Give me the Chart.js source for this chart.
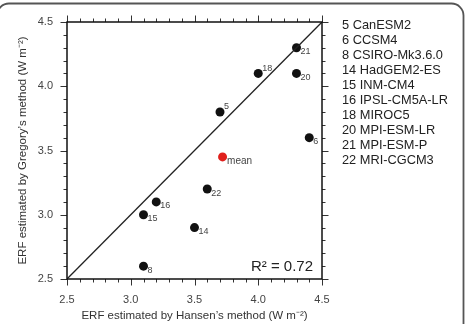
<!DOCTYPE html>
<html>
<head>
<meta charset="utf-8">
<script src="https://cdn.jsdelivr.net/npm/chart.js@4/dist/chart.umd.min.js"></script>
<style>
  body { margin: 0; background: #fff; }
  canvas { display: block; }
</style>
</head>
<body>
<canvas id="chart" width="465" height="324"></canvas>
<script>
// CMIP5 models (number + name), ERF from the two methods
const modelIds = [5, 6, 8, 14, 15, 16, 18, 20, 21, 22];
const modelNames = ['CanESM2', 'CCSM4', 'CSIRO-Mk3.6.0', 'HadGEM2-ES', 'INM-CM4',
    'IPSL-CM5A-LR', 'MIROC5', 'MPI-ESM-LR', 'MPI-ESM-P', 'MRI-CGCM3'];
const hansenErf = [3.7, 4.4, 3.1, 3.5, 3.1, 3.2, 4.0, 4.3, 4.3, 3.6];
const gregoryErf = [3.8, 3.6, 2.6, 2.9, 3.0, 3.1, 4.1, 4.1, 4.3, 3.2];
const meanErf = { x: 3.72, y: 3.45 };
const oneToOne = [2.5, 4.5];
const axisTicks = [2.5, 3.0, 3.5, 4.0, 4.5];
const rSquaredText = 'R\u00B2 = 0.72';

// labels drawn above the point instead of below
const labelsAbove = [5, 18];

const fontFamily = '"Liberation Sans", Arial, Helvetica, sans-serif';

const modelPoints = modelIds.map((id, i) => ({ x: hansenErf[i], y: gregoryErf[i] }));

// Frame, outward ticks on all four sides, point labels, legend text
const decorations = {
    id: 'decorations',
    beforeDraw(chart) {
        const ctx = chart.ctx;
        ctx.save();
        ctx.strokeStyle = '#555';
        ctx.lineWidth = 1.8;
        ctx.beginPath();
        ctx.roundRect(-3, 3.5, 466.5, 340, 12);
        ctx.stroke();
        ctx.restore();
    },
    afterDraw(chart) {
        const ctx = chart.ctx;
        const area = chart.chartArea;
        const xs = chart.scales.x;
        const ys = chart.scales.y;
        ctx.save();

        // minor/major ticks
        ctx.strokeStyle = '#333';
        ctx.lineWidth = 1;
        for (let i = 25; i <= 45; i++) {
            const len = i % 5 === 0 ? 6.5 : 3.5;
            const px = Math.round(xs.getPixelForValue(i / 10)) + 0.5;
            const py = Math.round(ys.getPixelForValue(i / 10)) + 0.5;
            ctx.beginPath();
            ctx.moveTo(px, area.bottom); ctx.lineTo(px, area.bottom + len);
            ctx.moveTo(px, area.top); ctx.lineTo(px, area.top - len);
            ctx.moveTo(area.left, py); ctx.lineTo(area.left - len, py);
            ctx.moveTo(area.right, py); ctx.lineTo(area.right + len, py);
            ctx.stroke();
        }

        // plot box
        ctx.strokeStyle = '#111';
        ctx.lineWidth = 1.5;
        ctx.strokeRect(area.left, area.top, area.right - area.left, area.bottom - area.top);

        // model numbers next to the points
        ctx.fillStyle = '#444';
        ctx.font = '9px ' + fontFamily;
        ctx.textAlign = 'left';
        ctx.textBaseline = 'middle';
        chart.getDatasetMeta(1).data.forEach((pt, i) => {
            const above = labelsAbove.includes(modelIds[i]);
            ctx.fillText(String(modelIds[i]), pt.x + 4, pt.y + (above ? -5 : 4));
        });
        const m = chart.getDatasetMeta(2).data[0];
        ctx.font = '10px ' + fontFamily;
        ctx.fillText('mean', m.x + 4.5, m.y + 4);

        // R squared
        ctx.fillStyle = '#222';
        ctx.font = '15px ' + fontFamily;
        ctx.textAlign = 'right';
        ctx.textBaseline = 'alphabetic';
        ctx.fillText(rSquaredText, area.right - 9, area.bottom - 8.5);

        // model list on the right
        ctx.font = '12.8px ' + fontFamily;
        ctx.textAlign = 'left';
        modelIds.forEach((id, i) => {
            ctx.fillText(id + ' ' + modelNames[i], area.right + 20, 28.5 + i * 15);
        });
        ctx.restore();
    }
};

new Chart(document.getElementById('chart'), {
    type: 'scatter',
    data: {
        datasets: [
            {
                type: 'line',
                data: oneToOne.map(v => ({ x: v, y: v })),
                borderColor: '#222',
                borderWidth: 1.3,
                pointRadius: 0
            },
            {
                data: modelPoints,
                backgroundColor: '#111',
                borderWidth: 0,
                pointRadius: 4.5
            },
            {
                data: [meanErf],
                backgroundColor: '#e0201c',
                borderWidth: 0,
                pointRadius: 4.5
            }
        ]
    },
    options: {
        responsive: false,
        animation: false,
        layout: { padding: { left: 0, top: 22, right: 143, bottom: 0 } },
        plugins: {
            legend: { display: false },
            tooltip: { enabled: false }
        },
        scales: {
            x: {
                type: 'linear',
                min: 2.5,
                max: 4.5,
                afterBuildTicks: s => { s.ticks = axisTicks.map(v => ({ value: v })); },
                afterFit: s => { s.height = 45; },
                grid: { display: false, drawTicks: false },
                border: { display: false },
                ticks: {
                    padding: 14.5,
                    color: '#444',
                    font: { family: fontFamily, size: 11 },
                    callback: v => v.toFixed(1)
                },
                title: {
                    display: true,
                    text: 'ERF estimated by Hansen\u2019s method (W m\u207B\u00B2)',
                    color: '#333',
                    font: { family: fontFamily, size: 11.5 },
                    padding: { top: 0, bottom: 1 }
                }
            },
            y: {
                type: 'linear',
                min: 2.5,
                max: 4.5,
                afterBuildTicks: s => { s.ticks = axisTicks.map(v => ({ value: v })); },
                afterFit: s => { s.width = 67; },
                grid: { display: false, drawTicks: false },
                border: { display: false },
                ticks: {
                    padding: 14,
                    color: '#444',
                    font: { family: fontFamily, size: 11 },
                    callback: v => v.toFixed(1)
                },
                title: {
                    display: true,
                    text: 'ERF estimated by Gregory\u2019s method (W m\u207B\u00B2)',
                    color: '#333',
                    font: { family: fontFamily, size: 11.5 },
                    padding: { top: 16, bottom: 0 }
                }
            }
        }
    },
    plugins: [decorations]
});
</script>
</body>
</html>
